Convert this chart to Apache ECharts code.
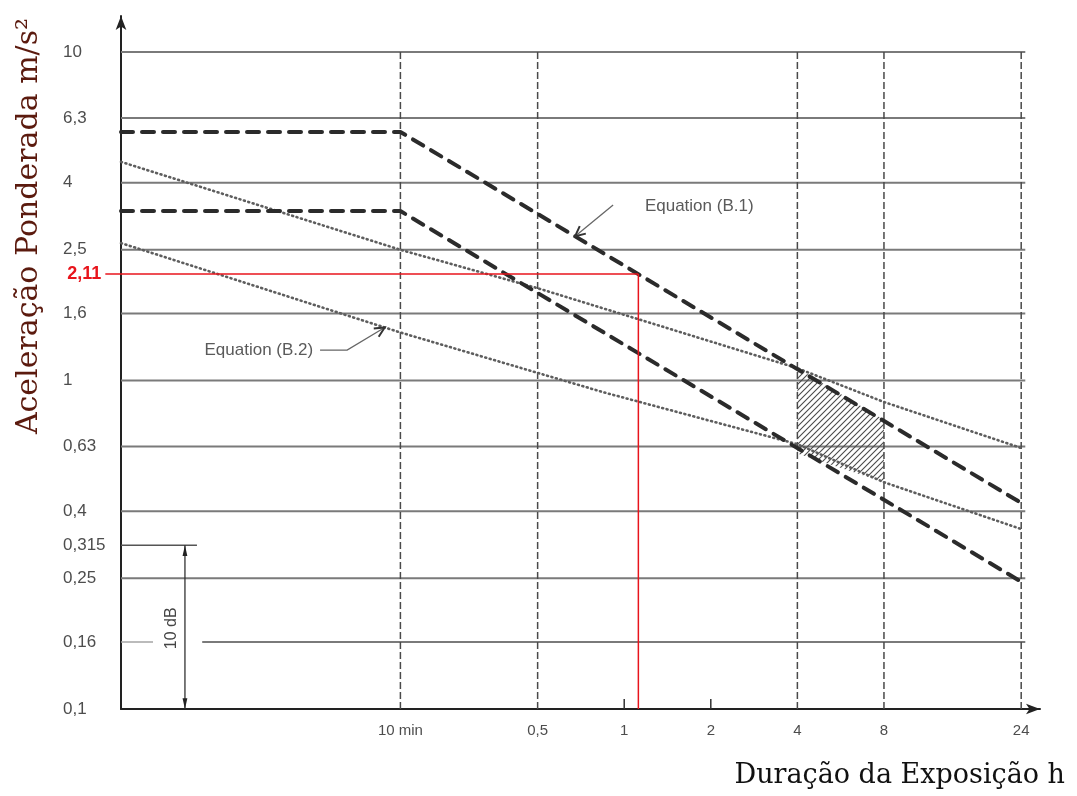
<!DOCTYPE html>
<html>
<head>
<meta charset="utf-8">
<title>Aceleração ponderada x duração da exposição</title>
<script src="https://cdn.jsdelivr.net/npm/echarts@6/dist/echarts.min.js"></script>
<style>
  html, body { margin: 0; padding: 0; background: #fff; }
  #main { width: 1077px; height: 796px; }
</style>
</head>
<body>
<div id="main"></div>
<script>
var myChart = echarts.init(document.getElementById('main'));

// escalas (horas x m/s2, as duas logaritmicas)
var xMin = 0.0178, xMax = 27.9, xGridEnd = 24.8;
var yMin = 0.1, yMax = 12.87, yGridTop = 10;

// rotulos dos eixos
var xTicks = [1 / 6, 0.5, 1, 2, 4, 8, 24];
var xLabels = ['10 min', '0,5', '1', '2', '4', '8', '24'];
var xGridAt = [1 / 6, 0.5, 4, 8, 24];
var xTickMarks = [1, 2];
var yTicks = [0.1, 0.16, 0.25, 0.315, 0.4, 0.63, 1, 1.6, 2.5, 4, 6.3, 10];
var yLabels = ['0,1', '0,16', '0,25', '0,315', '0,4', '0,63', '1', '1,6', '2,5', '4', '6,3', '10'];
var yGridAt = [0.25, 0.4, 0.63, 1, 1.6, 2.5, 4, 6.3, 10];

// Equation (B.1): limites tracejados
var b1Upper = [[0.0178, 5.71], [1 / 6, 5.71], [24, 0.424]];
var b1Lower = [[0.0178, 3.28], [1 / 6, 3.28], [24, 0.244]];
// Equation (B.2): limites pontilhados
var b2Upper = [[0.0178, 4.63], [1 / 6, 2.50], [0.5, 1.91], [4, 1.09], [8, 0.86], [24, 0.623]];
var b2Lower = [[0.0178, 2.62], [1 / 6, 1.40], [0.85, 0.92], [4, 0.64], [8, 0.49], [24, 0.353]];

// zona hachurada entre 4 h e 8 h
var hatchX = [4, 8];
var hatchTop = [1.09, 0.76];
var hatchBottom = [0.60, 0.49];

// linha vermelha em 2,11 m/s2
var redLevel = 2.11, redLabel = '2,11', redTime = 1.12, redFrom = 0.0157;

// cota de 10 dB
var dbX = 0.0297, dbFrom = 0.1, dbTo = 0.315, dbLineEnd = 0.0327;
var dbText = '10 dB', dbTextAt = [0.0266, 0.176];
var gapFrom = 0.0230, gapTo = 0.0341;   // interrupcao da linha 0,16

// chamadas das equacoes
var notes = ['Equation (B.1)', 'Equation (B.2)'];
var noteAt = [[1.18, 3.38], [0.0829, 1.238]];
var noteAlign = ['left', 'right'];
var notePath = [
    [[0.915, 3.42], [0.675, 2.75]],
    [[0.0876, 1.238], [0.1088, 1.238], [0.147, 1.45]]
];

var labelFont = '17px "Liberation Sans", Arial, sans-serif';
var hStyle = { stroke: '#7a7a7a', lineWidth: 2 };
var vStyle = { stroke: '#4a4a4a', lineWidth: 1.5, lineDash: [7, 3] };

function seg(a, b, style) {
    return { type: 'line', shape: { x1: a[0], y1: a[1], x2: b[0], y2: b[1] }, style: style };
}

function head(tip, from, len, spread, filled, color) {
    var ang = Math.atan2(tip[1] - from[1], tip[0] - from[0]);
    var p1 = [tip[0] - len * Math.cos(ang - spread), tip[1] - len * Math.sin(ang - spread)];
    var p2 = [tip[0] - len * Math.cos(ang + spread), tip[1] - len * Math.sin(ang + spread)];
    if (filled) {
        return { type: 'polygon', shape: { points: [p1, tip, p2] }, style: { fill: color } };
    }
    return { type: 'polyline', shape: { points: [p1, tip, p2] }, style: { stroke: color, lineWidth: 2, fill: null } };
}

function renderGrid(params, api) {
    var kids = [];
    yGridAt.forEach(function (v) {
        kids.push(seg(api.coord([xMin, v]), api.coord([xGridEnd, v]), hStyle));
    });
    kids.push(seg(api.coord([xMin, 0.16]), api.coord([gapFrom, 0.16]), { stroke: '#a5a5a5', lineWidth: 1.5 }));
    kids.push(seg(api.coord([gapTo, 0.16]), api.coord([xGridEnd, 0.16]), hStyle));
    kids.push(seg(api.coord([xMin, dbTo]), api.coord([dbLineEnd, dbTo]), { stroke: '#555', lineWidth: 1.5 }));
    xGridAt.forEach(function (h) {
        kids.push(seg(api.coord([h, yMin]), api.coord([h, yGridTop]), vStyle));
    });
    xTickMarks.forEach(function (h) {
        var p = api.coord([h, yMin]);
        kids.push(seg(p, [p[0], p[1] - 10], { stroke: '#333', lineWidth: 1.5 }));
    });
    yTicks.forEach(function (v, i) {
        var p = api.coord([xMin, v]);
        kids.push({ type: 'text', x: p[0] - 58, y: p[1], style: {
            text: yLabels[i], fill: '#4d4d4d', font: labelFont, align: 'left', verticalAlign: 'middle' } });
    });
    xTicks.forEach(function (h, i) {
        var p = api.coord([h, yMin]);
        kids.push({ type: 'text', x: p[0], y: p[1] + 14, style: {
            text: xLabels[i], fill: '#4d4d4d', font: '15px "Liberation Sans", Arial, sans-serif',
            align: 'center', verticalAlign: 'top' } });
    });
    return { type: 'group', children: kids };
}

function hatchPattern() {
    var c = document.createElement('canvas');
    c.width = 6; c.height = 6;
    var g = c.getContext('2d');
    g.strokeStyle = '#4a4a4a';
    g.lineWidth = 1.1;
    g.beginPath();
    g.moveTo(0, 6); g.lineTo(6, 0);
    g.moveTo(-1, 1); g.lineTo(1, -1);
    g.moveTo(5, 7); g.lineTo(7, 5);
    g.stroke();
    return c;
}
var hatchImg = hatchPattern();

function renderHatch(params, api) {
    var pts = [];
    for (var i = 0; i < hatchX.length; i++) pts.push(api.coord([hatchX[i], hatchTop[i]]));
    for (var j = hatchX.length - 1; j >= 0; j--) pts.push(api.coord([hatchX[j], hatchBottom[j]]));
    return { type: 'polygon', shape: { points: pts }, style: { fill: { image: hatchImg, repeat: 'repeat' } } };
}

function renderNotes(params, api) {
    var kids = [];
    notes.forEach(function (t, i) {
        var pts = notePath[i].map(function (d) { return api.coord(d); });
        kids.push({ type: 'polyline', shape: { points: pts }, style: { stroke: '#666', lineWidth: 1.3, fill: null } });
        kids.push(head(pts[pts.length - 1], pts[pts.length - 2], 11, 0.45, false, '#333'));
        var p = api.coord(noteAt[i]);
        kids.push({ type: 'text', x: p[0], y: p[1], style: {
            text: t, fill: '#5a5a5a', font: '17px "Liberation Sans", Arial, sans-serif',
            align: noteAlign[i], verticalAlign: 'middle' } });
    });
    // cota 10 dB
    var a = api.coord([dbX, dbFrom]), b = api.coord([dbX, dbTo]);
    kids.push(seg(a, b, { stroke: '#333', lineWidth: 1.3 }));
    kids.push(head(b, a, 11, 0.22, true, '#222'));
    kids.push(head(a, b, 11, 0.22, true, '#222'));
    var q = api.coord(dbTextAt);
    kids.push({ type: 'text', x: q[0], y: q[1], rotation: Math.PI / 2, style: {
        text: dbText, fill: '#444', font: '16px "Liberation Sans", Arial, sans-serif',
        align: 'center', verticalAlign: 'middle' } });
    return { type: 'group', children: kids };
}

function renderRed(params, api) {
    var s = api.coord([redFrom, redLevel]);
    var c = api.coord([redTime, redLevel]);
    var e = api.coord([redTime, yMin]);
    var red = { stroke: '#e8141c', lineWidth: 1.5 };
    return { type: 'group', children: [
        seg(s, c, red),
        seg(c, e, red),
        { type: 'text', x: s[0] - 4, y: s[1], style: {
            text: redLabel, fill: '#e8141c', font: 'bold 18px "Liberation Sans", Arial, sans-serif',
            align: 'right', verticalAlign: 'middle' } }
    ] };
}

function curve(data, style, z) {
    return { type: 'line', data: data, symbol: 'none', silent: true, z: z, lineStyle: style };
}

var axisCommon = {
    type: 'log', logBase: 10,
    axisLine: { show: true, onZero: false, symbol: ['none', 'arrow'], symbolSize: [8, 14],
        lineStyle: { color: '#222', width: 2 } },
    axisTick: { show: false },
    axisLabel: { show: false },
    splitLine: { show: false }
};

var option = {
    animation: false,
    grid: { left: 121, right: 37, top: 16, bottom: 87, containLabel: false, outerBoundsMode: 'none' },
    xAxis: echarts.util.merge({ min: xMin, max: xMax }, axisCommon),
    yAxis: echarts.util.merge({ min: yMin, max: yMax }, axisCommon),
    graphic: [
        { type: 'text', x: 29, y: 226, rotation: Math.PI / 2, style: {
            text: 'Aceleração Ponderada m/s²', fill: '#5b1a0e',
            font: '30px "DejaVu Serif", serif', align: 'center', verticalAlign: 'middle' } },
        { type: 'text', x: 1065, y: 776, style: {
            text: 'Duração da Exposição h', fill: '#111',
            font: '27px "DejaVu Serif", serif', align: 'right', verticalAlign: 'middle' } }
    ],
    series: [
        { type: 'custom', renderItem: renderGrid, data: [[1, 1]], silent: true, clip: false, z: 1 },
        { type: 'custom', renderItem: renderHatch, data: [[1, 1]], silent: true, clip: false, z: 2 },
        curve(b2Upper, { color: '#5e5e5e', width: 2.6, type: [1, 3.6], cap: 'round' }, 3),
        curve(b2Lower, { color: '#5e5e5e', width: 2.6, type: [1, 3.6], cap: 'round' }, 3),
        curve(b1Upper, { color: '#2b2b2b', width: 4, type: [12, 9], cap: 'round' }, 4),
        curve(b1Lower, { color: '#2b2b2b', width: 4, type: [12, 9], cap: 'round' }, 4),
        { type: 'custom', renderItem: renderNotes, data: [[1, 1]], silent: true, clip: false, z: 5 },
        { type: 'custom', renderItem: renderRed, data: [[1, 1]], silent: true, clip: false, z: 6 }
    ]
};

myChart.setOption(option);
</script>
</body>
</html>
